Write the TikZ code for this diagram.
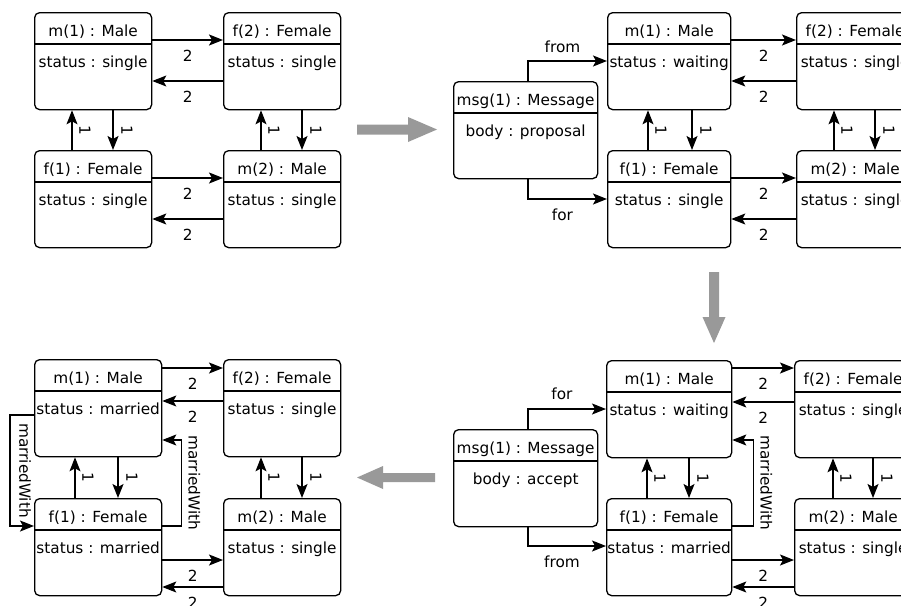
\documentclass[tikz,border=0pt]{standalone}
\usepackage{fontspec}
\setmainfont{DejaVu Sans}
\usetikzlibrary{arrows.meta,calc}
\definecolor{bigarrow}{RGB}{153,153,153}
\tikzset{
  objframe/.style={draw, line width=1.3pt, rounded corners=5pt, inner sep=0pt, minimum height=97pt, anchor=north west},
  txt/.style={inner sep=0pt, font=\fontsize{15.3}{18}\selectfont},
  sepline/.style={line width=2.4pt},
  conn/.style={line width=1.3pt, -{Stealth[length=14pt,width=11pt,inset=3pt]}},
  lbl/.style={txt},
  rlbl/.style={txt, rotate=-90},
  bigarr/.style={fill=bigarrow, draw=none},
}
% name, x, y (top left), width, title, attribute
\newcommand\objbox[6]{%
  \node[objframe, minimum width=#4pt] (#1) at (#2,#3) {};
  \node[txt, anchor=base] (#1-t) at ([yshift=-24pt]#1.north) {#5};
  \draw[sepline] ([yshift=-32pt]#1.north west) -- ([yshift=-32pt]#1.north east);
  \node[txt, anchor=base] (#1-a) at ([yshift=-55pt]#1.north) {#6};
}
% top node, bottom node, x offset of up arrow, x offset of down arrow
\newcommand\vpair[4]{%
  \draw[conn] ([xshift=#3pt]#2.north west) -- node[xshift=13pt, rlbl]{1} ([xshift=#3pt]#1.south west);
  \draw[conn] ([xshift=#4pt]#1.south west) -- node[xshift=14pt, rlbl]{1} ([xshift=#4pt]#2.north west);
}
% left node, right node, y offset of rightward arrow, y offset of leftward arrow
\newcommand\hpair[4]{%
  \draw[conn] ([yshift=-#3pt]#1.north east) -- node[lbl, yshift=-16pt]{2} ([yshift=-#3pt]#2.north west);
  \draw[conn] ([yshift=-#4pt]#2.north west) -- node[lbl, yshift=-16pt]{2} ([yshift=-#4pt]#1.north east);
}
\begin{document}
\begin{tikzpicture}[x=1pt, y=-1pt]
\useasboundingbox (0,0) rectangle (901,605);
\clip (0,0) rectangle (901,605);

% ---------- panel A (top left) ----------
\objbox{A-m1}{34}{12}{117}{m(1) : Male}{status : single}
\objbox{A-f2}{223}{12}{117}{f(2) : Female}{status : single}
\objbox{A-f1}{34}{150}{117}{f(1) : Female}{status : single}
\objbox{A-m2}{223}{150}{117}{m(2) : Male}{status : single}
\hpair{A-m1}{A-f2}{28}{69}
\hpair{A-f1}{A-m2}{28}{69}
\vpair{A-m1}{A-f1}{38}{79}
\vpair{A-f2}{A-m2}{38}{79}

% ---------- panel B (top right) ----------
\objbox{B-msg}{453}{81}{144}{msg(1) : Message}{body : proposal}
\objbox{B-m1}{607}{12}{123}{m(1) : Male}{status : waiting}
\objbox{B-f2}{796}{12}{117}{f(2) : Female}{status : single}
\objbox{B-f1}{607}{150}{123}{f(1) : Female}{status : single}
\objbox{B-m2}{796}{150}{117}{m(2) : Male}{status : single}
\hpair{B-m1}{B-f2}{28}{69}
\hpair{B-f1}{B-m2}{28}{69}
\vpair{B-m1}{B-f1}{41}{85}
\vpair{B-f2}{B-m2}{38}{79}
\draw[conn] ([xshift=75pt]B-msg.north west) |- node[lbl, pos=0.75, xshift=-5pt, yshift=14pt]{from} ([yshift=-49pt]B-m1.north west);
\draw[conn] ([xshift=75pt]B-msg.south west) |- node[lbl, pos=0.75, xshift=-5pt, yshift=-16pt]{for} ([yshift=-49pt]B-f1.north west);

% ---------- panel C (bottom right) ----------
\objbox{C-msg}{453}{429}{144}{msg(1) : Message}{body : accept}
\objbox{C-m1}{606}{360}{125}{m(1) : Male}{status : waiting}
\objbox{C-f2}{794}{360}{117}{f(2) : Female}{status : single}
\objbox{C-f1}{606}{498}{125}{f(1) : Female}{status : married}
\objbox{C-m2}{794}{498}{117}{m(2) : Male}{status : single}
\hpair{C-m1}{C-f2}{8}{42}
\hpair{C-f1}{C-m2}{62}{89}
\vpair{C-m1}{C-f1}{41}{83}
\vpair{C-f2}{C-m2}{39}{79}
\draw[conn] ([xshift=75pt]C-msg.north west) |- node[lbl, pos=0.75, xshift=-5pt, yshift=15pt]{for} ([yshift=-49pt]C-m1.north west);
\draw[conn] ([xshift=75pt]C-msg.south west) |- node[lbl, pos=0.75, xshift=-5pt, yshift=-16pt]{from} ([yshift=-48pt]C-f1.north west);
\draw[conn] ([yshift=-28pt]C-f1.north east) -- ++(21,0) |- node[pos=0.25, xshift=13pt, rlbl]{marriedWith} ([yshift=-80pt]C-m1.north east);

% ---------- panel D (bottom left) ----------
\objbox{D-m1}{34}{359}{127}{m(1) : Male}{status : married}
\objbox{D-f2}{223}{359}{117}{f(2) : Female}{status : single}
\objbox{D-f1}{34}{498}{127}{f(1) : Female}{status : married}
\objbox{D-m2}{223}{498}{117}{m(2) : Male}{status : single}
\hpair{D-m1}{D-f2}{9}{42}
\hpair{D-f1}{D-m2}{62}{89}
\vpair{D-m1}{D-f1}{41}{84}
\vpair{D-f2}{D-m2}{38}{79}
\draw[conn] ([yshift=-56pt]D-m1.north west) -- ++(-24,0) |- node[pos=0.25, xshift=15pt, rlbl]{marriedWith} ([yshift=-28pt]D-f1.north west);
\draw[conn] ([yshift=-28pt]D-f1.north east) -- ++(19,0) |- node[pos=0.25, xshift=13pt, rlbl]{marriedWith} ([yshift=-81pt]D-m1.north east);

% ---------- transition arrows ----------
\fill[bigarr] (357,124.5) -- (408,124.5) -- (408,117) -- (437,129.5) -- (408,142) -- (408,134.5) -- (357,134.5) -- cycle;
\fill[bigarr] (709,272) -- (719,272) -- (719,317) -- (725.5,317) -- (714,343) -- (702.5,317) -- (709,317) -- cycle;
\fill[bigarr] (435,473) -- (383,473) -- (383,466) -- (357,477.5) -- (383,489) -- (383,482) -- (435,482) -- cycle;
\end{tikzpicture}
\end{document}
